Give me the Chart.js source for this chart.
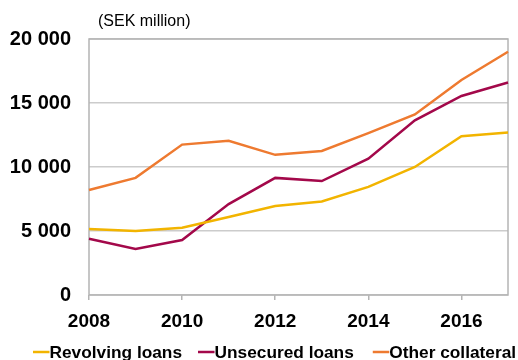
<!DOCTYPE html>
<html>
<head>
<meta charset="utf-8">
<script src="https://cdn.jsdelivr.net/npm/chart.js@4.4.1/dist/chart.umd.min.js"></script>
<style>
  html, body { margin: 0; padding: 0; background: #fff; overflow: hidden; }
  #wrap { position: relative; width: 518px; height: 360px; }
</style>
</head>
<body>
<div id="wrap"><canvas id="c" width="518" height="360"></canvas></div>
<script>
// Lending volumes by type, SEK million
const years = ['2008', '2009', '2010', '2011', '2012', '2013', '2014', '2015', '2016', '2017'];
const revolvingLoans  = [5150, 5000, 5250, 6100, 6950, 7300, 8450, 10000, 12400, 12700];
const unsecuredLoans  = [4400, 3600, 4300, 7100, 9150, 8900, 10650, 13650, 15550, 16600];
const otherCollateral = [8200, 9150, 11750, 12050, 10950, 11250, 12650, 14100, 16800, 19000];
const yTicks = [0, 5000, 10000, 15000, 20000];
const unitLabel = '(SEK million)';

const FONT = '"Liberation Sans", Arial, sans-serif';
const fmt = v => String(v).replace(/\B(?=(\d{3})+(?!\d))/g, ' ');

// Frame, unit label and a line-swatch legend drawn straight onto the canvas
const decorations = {
  id: 'decorations',
  beforeDatasetsDraw(chart) {
    const { ctx, chartArea: a } = chart;
    ctx.save();
    ctx.strokeStyle = '#b4b4b4';
    ctx.lineWidth = 1.5;
    ctx.strokeRect(a.left, a.top, a.right - a.left, a.bottom - a.top);
    ctx.restore();
  },
  afterDraw(chart) {
    const { ctx, chartArea: a } = chart;
    ctx.save();
    ctx.fillStyle = '#000';
    ctx.font = '16px ' + FONT;
    ctx.textBaseline = 'alphabetic';
    ctx.fillText(unitLabel, a.left + 9, 26);

    ctx.font = 'bold 17.3px ' + FONT;
    let x = 33;
    const gaps = [16, 19];
    chart.data.datasets.forEach((ds, i) => {
      ctx.strokeStyle = ds.borderColor;
      ctx.lineWidth = 2.5;
      ctx.beginPath();
      ctx.moveTo(x, 352);
      ctx.lineTo(x + 16.5, 352);
      ctx.stroke();
      x += 16.5;
      ctx.fillText(ds.label, x, 357.5);
      x += ctx.measureText(ds.label).width + (gaps[i] || 0);
    });
    ctx.restore();
  }
};

new Chart(document.getElementById('c'), {
  type: 'line',
  data: {
    labels: years,
    datasets: [
      { label: 'Revolving loans', data: revolvingLoans, borderColor: '#f2b400' },
      { label: 'Unsecured loans', data: unsecuredLoans, borderColor: '#a3084a' },
      { label: 'Other collateral', data: otherCollateral, borderColor: '#ee7a30' }
    ]
  },
  options: {
    responsive: false,
    animation: false,
    devicePixelRatio: 1,
    layout: { padding: { top: 39, right: 6, bottom: 0, left: 0 } },
    elements: {
      line: { borderWidth: 2.5, tension: 0, fill: false },
      point: { radius: 0, hoverRadius: 0 }
    },
    plugins: {
      legend: { display: false },
      title: { display: false },
      tooltip: { enabled: false }
    },
    scales: {
      x: {
        type: 'category',
        offset: false,
        border: { display: false },
        grid: {
          drawOnChartArea: false,
          drawTicks: true,
          tickLength: 5,
          lineWidth: 1.5,
          color: ctx => (ctx.index % 2 === 0 ? '#b4b4b4' : 'rgba(0,0,0,0)')
        },
        ticks: {
          autoSkip: false,
          maxRotation: 0,
          padding: 10,
          color: '#000',
          font: { family: FONT, size: 19, weight: 'bold' },
          callback: (v, i) => (i % 2 === 0 ? years[i] : '')
        },
        afterFit: s => { s.height = 65; }
      },
      y: {
        min: 0,
        max: 20000,
        border: { display: false },
        afterBuildTicks: s => { s.ticks = yTicks.map(v => ({ value: v })); },
        grid: { color: '#cccccc', lineWidth: 1.5, drawTicks: false },
        ticks: {
          padding: 18,
          color: '#000',
          font: { family: FONT, size: 20, weight: 'bold' },
          callback: v => fmt(v)
        },
        afterFit: s => { s.width = 89; }
      }
    }
  },
  plugins: [decorations]
});
</script>
</body>
</html>
